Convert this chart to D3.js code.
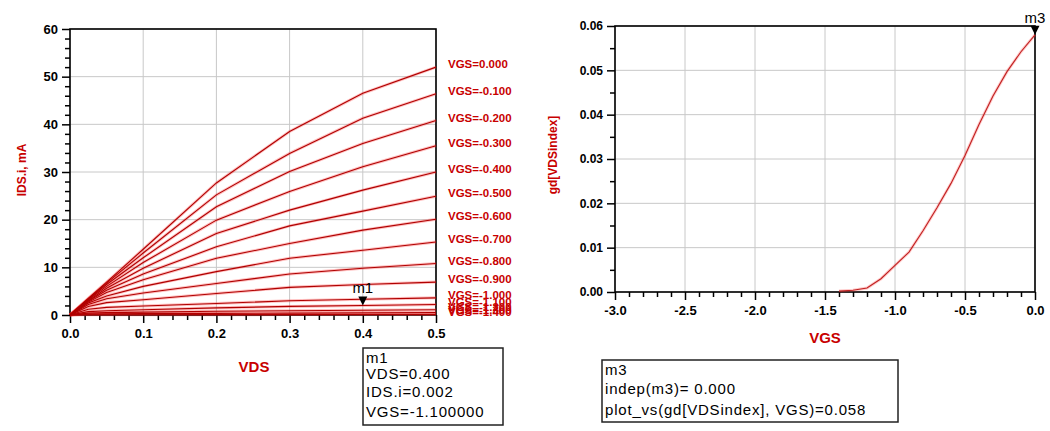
<!DOCTYPE html>
<html>
<head>
<meta charset="utf-8">
<script src="https://cdn.jsdelivr.net/npm/d3@7"></script>
<style>
    body { margin: 0; background: #fff; }
    svg { display: block; font-family: "Liberation Sans", Arial, sans-serif; }
    .tick text { font-weight: bold; fill: #000; }
    .grid line { stroke: #c8c8c8; stroke-width: 1; }
</style>
</head>
<body>
<div class="container"></div>
<script>
/*
Two ADS plots side by side:
  left  = IDS.i (mA) vs VDS for a sweep of VGS, with marker m1
  right = gd[VDSindex] vs VGS, with marker m3
*/

const width = 1050;
const height = 431;

// left plot: drain current curves, one per VGS step (mA at each VDS point)
const vdsPoints = [0, 0.025, 0.05, 0.1, 0.2, 0.3, 0.4, 0.5];
const vgsSteps = [0, -0.1, -0.2, -0.3, -0.4, -0.5, -0.6, -0.7, -0.8, -0.9, -1.0, -1.1, -1.2, -1.3, -1.4];
const idsCurves = [
    [0, 3.5, 6.9, 13.8, 27.7, 38.5, 46.5, 52.0],
    [0, 3.4, 6.7, 13.0, 25.2, 33.9, 41.3, 46.4],
    [0, 3.3, 6.4, 12.0, 22.7, 30.1, 36.0, 40.8],
    [0, 3.2, 6.0, 11.0, 19.9, 25.9, 31.1, 35.5],
    [0, 3.0, 5.6, 9.8, 17.1, 22.0, 26.2, 30.0],
    [0, 2.9, 5.2, 8.6, 14.3, 18.7, 21.8, 24.9],
    [0, 2.7, 4.7, 7.4, 11.9, 15.0, 17.8, 20.1],
    [0, 2.5, 4.0, 6.0, 9.1, 11.9, 13.6, 15.3],
    [0, 2.2, 3.4, 4.6, 6.6, 8.6, 9.8, 10.8],
    [0, 1.8, 2.6, 3.2, 4.5, 5.8, 6.4, 6.9],
    [0, 1.2, 1.6, 1.9, 2.4, 3.0, 3.3, 3.6],
    [0, 0.7, 0.9, 1.1, 1.5, 1.8, 2.0, 2.2],
    [0, 0.4, 0.5, 0.6, 0.8, 0.9, 1.0, 1.1],
    [0, 0.2, 0.25, 0.3, 0.35, 0.4, 0.45, 0.5],
    [0, 0.04, 0.05, 0.06, 0.07, 0.08, 0.09, 0.1]
];
const leftXTicks = [0, 0.1, 0.2, 0.3, 0.4, 0.5];
const leftYTicks = [0, 10, 20, 30, 40, 50, 60];

// right plot: gd vs VGS
const vgsSweep = [-1.4, -1.3, -1.2, -1.1, -1.0, -0.9, -0.8, -0.7, -0.6, -0.5, -0.4, -0.3, -0.2, -0.1, 0.0];
const gdValues = [0.0002, 0.0004, 0.0009, 0.003, 0.006, 0.009, 0.0138, 0.019, 0.0245, 0.0308, 0.0378, 0.0442, 0.0497, 0.0542, 0.058];
const rightXTicks = [-3.0, -2.5, -2.0, -1.5, -1.0, -0.5, 0.0];
const rightYTicks = [0, 0.01, 0.02, 0.03, 0.04, 0.05, 0.06];

// markers and their readouts
const m1 = { vds: 0.4, ids: 2.0 };
const m1Lines = ['m1', 'VDS=0.400', 'IDS.i=0.002', 'VGS=-1.100000'];
const m3 = { vgs: 0.0, gd: 0.058 };
const m3Lines = ['m3', 'indep(m3)= 0.000', 'plot_vs(gd[VDSindex], VGS)=0.058'];

const red = '#c80000';

// plain hyphen instead of d3's unicode minus
const fmt = spec => v => d3.format(spec)(v).replace('\u2212', '-');

const svg = d3.select('.container')
    .append('svg')
    .attr('width', width)
    .attr('height', height);

function minorTicks(start, stop, step, majors) {
    return d3.range(start, stop + step / 2, step)
        .filter(v => !majors.some(m => Math.abs(m - v) < step / 10));
}

function drawFrame(x, y, xt, yt, xMinor, yMinor, fs) {
    const [x0, x1] = x.range();
    const [y0, y1] = y.range();

    const grid = svg.append('g').attr('class', 'grid');
    grid.selectAll('.gx').data(xt).enter().append('line')
        .attr('x1', d => x(d)).attr('x2', d => x(d))
        .attr('y1', y0).attr('y2', y1);
    grid.selectAll('.gy').data(yt).enter().append('line')
        .attr('x1', x0).attr('x2', x1)
        .attr('y1', d => y(d)).attr('y2', d => y(d));

    const xAxis = svg.append('g')
        .attr('transform', `translate(0,${y0})`)
        .call(d3.axisBottom(x).tickValues(xt).tickSize(8).tickPadding(6).tickFormat(fs.x));
    svg.append('g')
        .attr('transform', `translate(0,${y0})`)
        .call(d3.axisBottom(x).tickValues(xMinor).tickSize(5).tickFormat(() => ''));
    const yAxis = svg.append('g')
        .attr('transform', `translate(${x0},0)`)
        .call(d3.axisLeft(y).tickValues(yt).tickSize(8).tickPadding(4).tickFormat(fs.y));
    svg.append('g')
        .attr('transform', `translate(${x0},0)`)
        .call(d3.axisLeft(y).tickValues(yMinor).tickSize(5).tickFormat(() => ''));

    svg.selectAll('.domain').remove();
    svg.selectAll('.tick line').attr('stroke', '#000').attr('stroke-width', 1.5);
    xAxis.selectAll('text').attr('font-size', fs.xSize);
    yAxis.selectAll('text').attr('font-size', fs.ySize);

    svg.append('rect')
        .attr('x', x0).attr('y', y1)
        .attr('width', x1 - x0).attr('height', y0 - y1)
        .attr('fill', 'none').attr('stroke', '#000').attr('stroke-width', 1.6);
}

function marker(px, py, name) {
    svg.append('path')
        .attr('d', `M${px - 4.5},${py - 9}L${px + 4.5},${py - 9}L${px},${py}Z`)
        .attr('fill', '#000');
    svg.append('text')
        .attr('x', px).attr('y', py - 12)
        .attr('text-anchor', 'middle')
        .attr('font-size', 15)
        .text(name);
}

function readout(x, y, w, h, lines, baselines) {
    svg.append('rect')
        .attr('x', x).attr('y', y).attr('width', w).attr('height', h)
        .attr('fill', '#fff').attr('stroke', '#222').attr('stroke-width', 1.5);
    svg.selectAll(null).data(lines).enter().append('text')
        .attr('x', x + 3)
        .attr('y', (d, i) => y + baselines[i])
        .attr('font-size', 15)
        .attr('letter-spacing', 0.8)
        .text(d => d);
}

// ---------- left plot ----------
const xL = d3.scaleLinear().domain([0, 0.5]).range([70, 436]);
const yL = d3.scaleLinear().domain([0, 60]).range([315, 29]);

drawFrame(xL, yL, leftXTicks, leftYTicks,
    minorTicks(0, 0.5, 0.02, leftXTicks), minorTicks(0, 60, 2, leftYTicks),
    { x: fmt('.1f'), y: fmt('d'), xSize: 13, ySize: 13 });

const lineL = d3.line()
    .x((d, i) => xL(vdsPoints[i]))
    .y(d => yL(d));

const curves = svg.append('g');
curves.selectAll('.halo').data(idsCurves).enter().append('path')
    .attr('d', lineL).attr('fill', 'none')
    .attr('stroke', '#ff3030').attr('stroke-width', 3).attr('opacity', 0.3);
curves.selectAll('.curve').data(idsCurves).enter().append('path')
    .attr('d', lineL).attr('fill', 'none')
    .attr('stroke', '#b00000').attr('stroke-width', 1.1);

svg.selectAll('.vgslab').data(vgsSteps).enter().append('text')
    .attr('x', xL(0.5) + 12)
    .attr('y', (d, i) => yL(idsCurves[i][idsCurves[i].length - 1]) - 3)
    .attr('dy', '0.35em')
    .attr('font-size', 11.5)
    .attr('font-weight', 'bold')
    .attr('fill', red)
    .text(d => 'VGS=' + fmt('.3f')(d));

svg.append('text')
    .attr('transform', `translate(26,${(yL(60) + yL(0)) / 2 - 2}) rotate(-90)`)
    .attr('text-anchor', 'middle')
    .attr('font-size', 12).attr('font-weight', 'bold').attr('fill', red)
    .text('IDS.i, mA');
svg.append('text')
    .attr('x', 254).attr('y', 372)
    .attr('text-anchor', 'middle')
    .attr('font-size', 15).attr('font-weight', 'bold').attr('fill', red)
    .text('VDS');

marker(xL(m1.vds), yL(m1.ids), 'm1');
readout(363, 348, 140, 77, m1Lines, [15, 31, 49, 69]);

// ---------- right plot ----------
const xR = d3.scaleLinear().domain([-3, 0]).range([615, 1035]);
const yR = d3.scaleLinear().domain([0, 0.06]).range([292, 26]);

drawFrame(xR, yR, rightXTicks, rightYTicks,
    minorTicks(-3, 0, 0.1, rightXTicks), minorTicks(0, 0.06, 0.005, rightYTicks),
    { x: fmt('.1f'), y: fmt('.2f'), xSize: 13, ySize: 12 });

const lineR = d3.line()
    .x((d, i) => xR(vgsSweep[i]))
    .y(d => yR(d));

svg.append('path').datum(gdValues)
    .attr('d', lineR).attr('fill', 'none')
    .attr('stroke', '#ff3030').attr('stroke-width', 3).attr('opacity', 0.25);
svg.append('path').datum(gdValues)
    .attr('d', lineR).attr('fill', 'none')
    .attr('stroke', '#c02020').attr('stroke-width', 1.1);

svg.append('text')
    .attr('transform', `translate(557,${(yR(0.06) + yR(0)) / 2 - 4}) rotate(-90)`)
    .attr('text-anchor', 'middle')
    .attr('font-size', 12).attr('font-weight', 'bold').attr('fill', red)
    .text('gd[VDSindex]');
svg.append('text')
    .attr('x', 825).attr('y', 343)
    .attr('text-anchor', 'middle')
    .attr('font-size', 15).attr('font-weight', 'bold').attr('fill', red)
    .text('VGS');

marker(xR(m3.vgs), yR(m3.gd), 'm3');
readout(602, 360, 296, 62, m3Lines, [15, 34, 55]);
</script>
</body>
</html>
